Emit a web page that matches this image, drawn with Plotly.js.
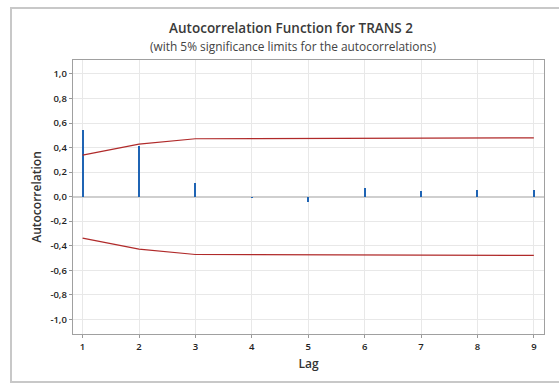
<!DOCTYPE html>
<html>
<head>
<meta charset="utf-8">
<script src="https://cdn.plot.ly/plotly-3.0.1.min.js"></script>
<style>html,body{margin:0;padding:0;background:#fff;}#chart{width:559px;height:383px;}</style>
</head>
<body>
<div id="chart"></div>
<script>
const lags = [1, 2, 3, 4, 5, 6, 7, 8, 9];
const acf = [0.54, 0.41, 0.114, -0.01, -0.04, 0.07, 0.046, 0.055, 0.052];
const upperLimit = [0.338, 0.428, 0.472, 0.473, 0.473, 0.473, 0.474, 0.475, 0.479];
const lowerLimit = upperLimit.map(v => -v);
const yTickVals = [-1.0, -0.8, -0.6, -0.4, -0.2, 0.0, 0.2, 0.4, 0.6, 0.8, 1.0];
const yTickText = ["-1,0", "-0,8", "-0,6", "-0,4", "-0,2", "0,0", "0,2", "0,4", "0,6", "0,8", "1,0"];
const xTickText = ["1", "2", "3", "4", "5", "6", "7", "8", "9"];

const font = "Open Sans, Noto Sans, sans-serif";

const traces = [
  {
    type: "bar", x: lags, y: acf, width: 0.035,
    marker: {color: "#1f64b4", line: {width: 0}},
    hoverinfo: "x+y"
  },
  {
    type: "scatter", mode: "lines", x: lags, y: upperLimit,
    line: {color: "#b02a2a", width: 1.2}
  },
  {
    type: "scatter", mode: "lines", x: lags, y: lowerLimit,
    line: {color: "#b02a2a", width: 1.2}
  }
];

const W = 559, H = 383;
const plotTop = 60, plotBottom = 334, plotH = plotBottom - plotTop;
const plotLeft = 73, plotRight = 544, plotW = plotRight - plotLeft;

const layout = {
  width: W, height: H,
  margin: {l: plotLeft, r: W - plotRight, t: plotTop, b: H - plotBottom},
  paper_bgcolor: "#ffffff", plot_bgcolor: "#ffffff",
  showlegend: false,
  bargap: 0,
  font: {family: font, color: "#333"},
  title: {
    text: "Autocorrelation Function for TRANS 2",
    font: {family: font, size: 13.5, color: "#3a3a3a", weight: 600},
    x: 291 / W, xanchor: "center", xref: "container",
    y: 1 - 28 / H, yanchor: "middle", yref: "container"
  },
  annotations: [{
    text: "(with 5% significance limits for the autocorrelations)",
    xref: "paper", yref: "paper",
    x: (293 - plotLeft) / plotW, y: (plotBottom - 45.5) / plotH,
    xanchor: "center", yanchor: "middle", showarrow: false,
    font: {family: font, size: 11.9, color: "#444"}
  }],
  xaxis: {
    range: [0.83, 9.18],
    tickvals: lags,
    ticktext: xTickText,
    ticks: "outside", ticklen: 3, tickcolor: "#999",
    tickfont: {family: font, size: 9.5, color: "#222", weight: 600},
    showgrid: true, gridcolor: "#e8e8e8", gridwidth: 1,
    showline: true, linecolor: "#a0a0a0", linewidth: 1.2, mirror: true,
    zeroline: false,
    title: {text: "Lag", font: {family: font, size: 12, color: "#333", weight: 600}, standoff: 8}
  },
  yaxis: {
    range: [-1.12, 1.114],
    tickvals: yTickVals,
    ticktext: yTickText,
    ticks: "outside", ticklen: 3, tickcolor: "#999",
    tickfont: {family: font, size: 9.5, color: "#222", weight: 600},
    showgrid: true, gridcolor: "#e8e8e8", gridwidth: 1,
    showline: true, linecolor: "#a0a0a0", linewidth: 1.2, mirror: true,
    zeroline: true, zerolinecolor: "#cfcfcf", zerolinewidth: 2,
    title: {text: "Autocorrelation", font: {family: font, size: 12, color: "#333", weight: 600}, standoff: 6}
  },
  shapes: [{
    type: "rect", xref: "paper", yref: "paper",
    x0: (11 - plotLeft) / plotW, x1: (590 - plotLeft) / plotW,
    y0: (plotBottom - 382) / plotH, y1: (plotBottom - 8) / plotH,
    line: {color: "#c8c8c8", width: 2}, fillcolor: "rgba(0,0,0,0)", layer: "below"
  }]
};

Plotly.newPlot("chart", traces, layout, {displayModeBar: false, staticPlot: true});
</script>
</body>
</html>
